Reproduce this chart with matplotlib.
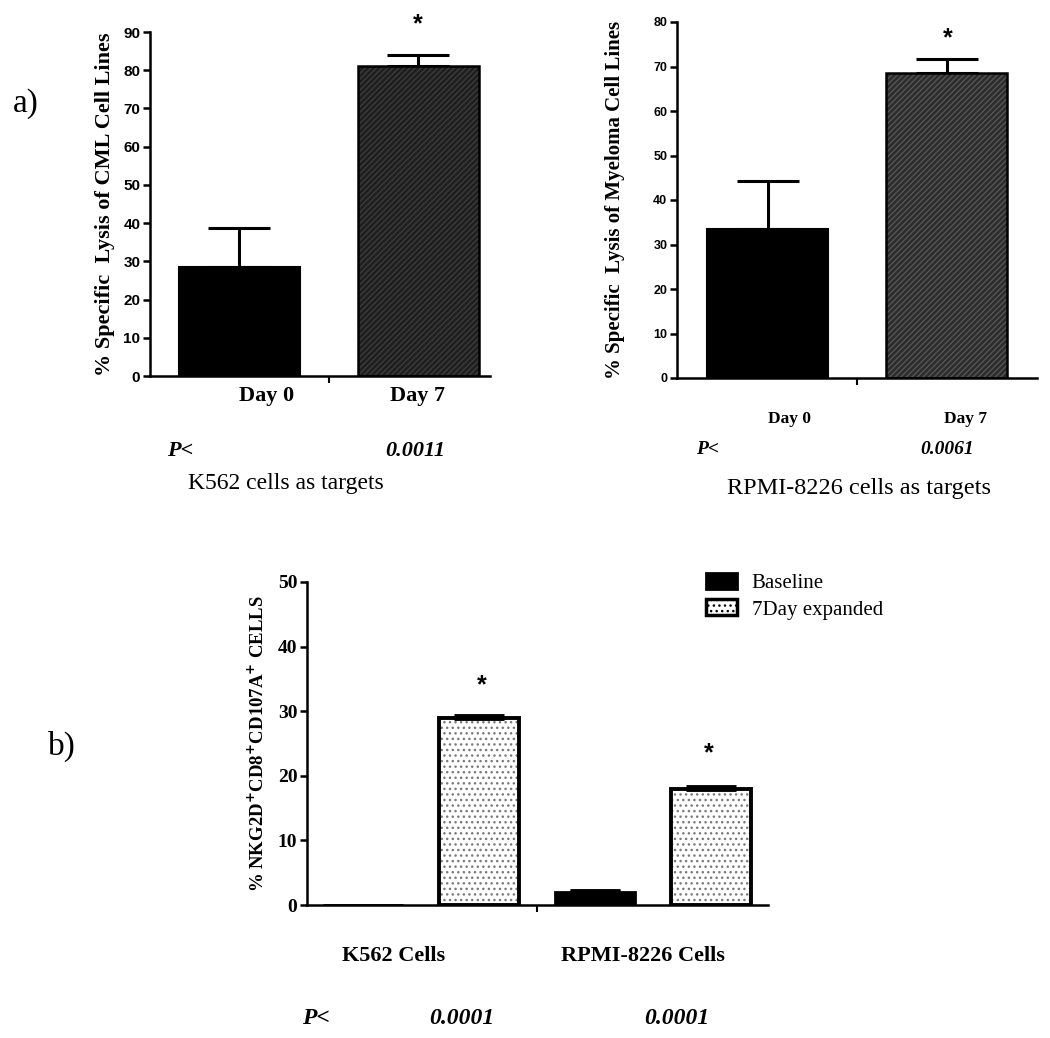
import matplotlib
matplotlib.use("Agg")
import matplotlib.pyplot as plt
from matplotlib.patches import Patch
import numpy as np

# ---------------- data ----------------
days = ["Day 0", "Day 7"]
cml_lysis = [28.5, 81.0]
cml_err = [10.3, 3.0]
myeloma_lysis = [33.5, 68.5]
myeloma_err = [10.8, 3.2]
p_cml = "0.0011"
p_myeloma = "0.0061"

groups = ["K562 Cells", "RPMI-8226 Cells"]
baseline = [0.0, 2.0]
baseline_err = [0.0, 0.1]
expanded = [29.0, 18.0]
expanded_err = [0.3, 0.2]
p_b = ["0.0001", "0.0001"]

W, H = 1050, 1038
SERIF = "Liberation Serif"
SANS = "Liberation Sans"

fig = plt.figure(figsize=(W / 100, H / 100), dpi=100)


def ax_px(x0, x1, y_top, y_bot):
    return fig.add_axes([x0 / W, 1 - y_bot / H, (x1 - x0) / W, (y_bot - y_top) / H])


def ftext(x, y, s, **kw):
    fig.text(x / W, 1 - y / H, s, **kw)


def style_axes(ax, tickfont, ticksize):
    for s in ["top", "right"]:
        ax.spines[s].set_visible(False)
    for s in ["left", "bottom"]:
        ax.spines[s].set_linewidth(1.8)
    ax.tick_params(axis="y", direction="out", length=5, width=1.8, pad=2)
    ax.tick_params(axis="x", direction="out", length=5, width=1.5)
    for lab in ax.get_yticklabels():
        lab.set_fontfamily(tickfont)
        lab.set_fontweight("bold")
        lab.set_fontsize(ticksize)


def dark_pair(ax, values, errs, width, face, hatchc):
    x = np.arange(len(values))
    ax.bar(x[0], values[0], width=width, color="black", edgecolor="black", linewidth=1.5, zorder=2)
    ax.bar(x[1], values[1], width=width, color=face, edgecolor=hatchc, hatch="//////",
           linewidth=0, zorder=2)
    ax.bar(x[1], values[1], width=width, fill=False, edgecolor="black", linewidth=1.8, zorder=3)
    for xi, v, e in zip(x, values, errs):
        ax.errorbar(xi, v, yerr=[[0], [e]], fmt="none", ecolor="black", elinewidth=2.2,
                    capsize=22, capthick=2.2, zorder=1)


# ---------------- panel a, left ----------------
axL = ax_px(150, 490, 32, 376)
dark_pair(axL, cml_lysis, cml_err, 0.68, "#1e1e1e", "#3c3c3c")
axL.set_xlim(-0.5, 1.4)
axL.set_ylim(0, 90)
axL.set_yticks(np.arange(0, 91, 10))
axL.set_xticks([0.5])
axL.set_xticklabels([""])
style_axes(axL, SANS, 11)
axL.set_ylabel("% Specific  Lysis of CML Cell Lines", fontfamily=SERIF, fontweight="bold",
               fontsize=16)
axL.yaxis.set_label_coords(-0.103, 0.5)
ftext(267, 396, days[0], ha="center", va="center", fontfamily=SERIF, fontweight="bold", fontsize=16)
ftext(418, 396, days[1], ha="center", va="center", fontfamily=SERIF, fontweight="bold", fontsize=16)
ftext(418, 24, "*", ha="center", va="center", fontfamily=SANS, fontweight="bold", fontsize=18)
ftext(167, 451, "P<", ha="left", va="center", fontfamily=SERIF, fontweight="bold",
      fontstyle="italic", fontsize=16)
ftext(415, 451, p_cml, ha="center", va="center", fontfamily=SERIF, fontweight="bold",
      fontstyle="italic", fontsize=16)
ftext(188, 484, "K562 cells as targets", ha="left", va="center", fontfamily=SERIF, fontsize=17)

# ---------------- panel a, right ----------------
axR = ax_px(677, 1037, 22, 378)
dark_pair(axR, myeloma_lysis, myeloma_err, 0.68, "#2c2c2c", "#555555")
axR.set_xlim(-0.506, 1.505)
axR.set_ylim(0, 80)
axR.set_yticks(np.arange(0, 81, 10))
axR.set_xticks([0.5])
axR.set_xticklabels([""])
style_axes(axR, SANS, 9)
axR.set_ylabel("% Specific  Lysis of Myeloma Cell Lines", fontfamily=SERIF, fontweight="bold",
               fontsize=15)
axR.yaxis.set_label_coords(-0.144, 0.5)
ftext(790, 419, days[0], ha="center", va="center", fontfamily=SERIF, fontweight="bold", fontsize=12.5)
ftext(965, 419, days[1], ha="center", va="center", fontfamily=SERIF, fontweight="bold", fontsize=12.5)
ftext(948, 38, "*", ha="center", va="center", fontfamily=SANS, fontweight="bold", fontsize=18)
ftext(696, 449, "P<", ha="left", va="center", fontfamily=SERIF, fontweight="bold",
      fontstyle="italic", fontsize=14)
ftext(947, 449, p_myeloma, ha="center", va="center", fontfamily=SERIF, fontweight="bold",
      fontstyle="italic", fontsize=14)
ftext(727, 488, "RPMI-8226 cells as targets", ha="left", va="center", fontfamily=SERIF,
      fontsize=17.5)

ftext(26, 104, "a)", ha="center", va="center", fontfamily=SERIF, fontsize=24)

# ---------------- panel b ----------------
axB = ax_px(307, 768, 582, 905)
pos = np.arange(4)
base_x = pos[[0, 2]]
exp_x = pos[[1, 3]]
bw = 0.69
axB.bar(base_x, baseline, width=bw, color="black", edgecolor="black", linewidth=2, zorder=2)
axB.bar(exp_x, expanded, width=bw, color="white", edgecolor="#7a7a7a", hatch="...",
        linewidth=0, zorder=2)
axB.bar(exp_x, expanded, width=bw, fill=False, edgecolor="black", linewidth=2.8, zorder=3)
for xs, vals, errs in [(base_x, baseline, baseline_err), (exp_x, expanded, expanded_err)]:
    for xi, v, e in zip(xs, vals, errs):
        if v > 0:
            axB.errorbar(xi, v, yerr=[[0], [e]], fmt="none", ecolor="black",
                         elinewidth=2, capsize=18, capthick=3.5, zorder=4)
axB.set_xlim(-0.48, 3.49)
axB.set_ylim(0, 50)
axB.set_yticks(np.arange(0, 51, 10))
axB.set_xticks([1.5])
axB.set_xticklabels([""])
style_axes(axB, SERIF, 14)
axB.set_ylabel(r"% NKG2D$^{\mathbf{+}}$CD8$^{\mathbf{+}}$CD107A$^{\mathbf{+}}$ CELLS",
               fontfamily=SERIF, fontweight="bold", fontsize=13.5)
axB.yaxis.set_label_coords(-0.085, 0.5)
ftext(482, 685, "*", ha="center", va="center", fontfamily=SANS, fontweight="bold", fontsize=18)
ftext(709, 753, "*", ha="center", va="center", fontfamily=SANS, fontweight="bold", fontsize=18)

ftext(394, 956, groups[0], ha="center", va="center", fontfamily=SERIF, fontweight="bold",
      fontsize=16)
ftext(643, 956, groups[1], ha="center", va="center", fontfamily=SERIF, fontweight="bold",
      fontsize=16)
ftext(302, 1019, "P<", ha="left", va="center", fontfamily=SERIF, fontweight="bold",
      fontstyle="italic", fontsize=17)
ftext(462, 1019, p_b[0], ha="center", va="center", fontfamily=SERIF, fontweight="bold",
      fontstyle="italic", fontsize=17)
ftext(677, 1019, p_b[1], ha="center", va="center", fontfamily=SERIF, fontweight="bold",
      fontstyle="italic", fontsize=17)

handles = [Patch(facecolor="black", edgecolor="black", linewidth=2),
           Patch(facecolor="white", edgecolor="black", hatch="...", linewidth=2.5)]
fig.legend(handles, ["Baseline", "7Day expanded"], loc="upper left",
           bbox_to_anchor=(706 / W, 1 - 573 / H), frameon=False,
           prop={"family": SERIF, "size": 15}, handlelength=1.5, handleheight=0.8,
           labelspacing=0.3, handletextpad=0.7, borderaxespad=0, borderpad=0)

ftext(62, 746, "b)", ha="center", va="center", fontfamily=SERIF, fontsize=24)

fig.savefig("out.png", dpi=100, facecolor="white")
